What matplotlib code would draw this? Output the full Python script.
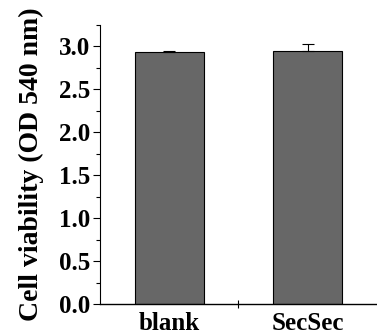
import matplotlib.pyplot as plt
import numpy as np

categories = ['blank', 'SecSec']
values = [2.93, 2.95]
errors = [0.02, 0.08]

plt.rcParams['font.family'] = ['Liberation Serif', 'DejaVu Serif']
plt.rcParams['font.weight'] = 'bold'

fig = plt.figure(figsize=(3.77, 3.36), dpi=100)
ax = fig.add_axes([0.265, 0.095, 0.735, 0.831])

x = np.arange(1, len(categories) + 1)
ax.bar(x, values, width=0.5, color='#676767', edgecolor='black', linewidth=0.8,
       yerr=[[0] * len(errors), errors], capsize=4.5,
       error_kw=dict(ecolor='black', elinewidth=0.8, capthick=0.8))

ax.set_xlim(0.5, 2.5)
ax.set_ylim(0, 3.25)
ax.set_xticks(x)
ax.set_xticklabels(categories, fontsize=18, fontweight='bold')
ax.tick_params(axis='x', length=0, pad=6)
ax.set_xticks([1.5], minor=True)
ax.tick_params(axis='x', which='minor', direction='inout', length=6, width=0.8)

ax.set_yticks(np.arange(0, 3.01, 0.5))
ax.set_yticklabels([f'{v:.1f}' for v in np.arange(0, 3.01, 0.5)], fontsize=18, fontweight='bold')
ax.set_yticks(np.arange(0, 3.26, 0.25), minor=True)
ax.tick_params(axis='y', which='major', direction='out', length=5, width=0.8, pad=2)
ax.tick_params(axis='y', which='minor', direction='out', length=3, width=0.8)

ax.set_ylabel('Cell viability (OD 540 nm)', fontsize=20, fontweight='bold', labelpad=11)

ax.spines['top'].set_visible(False)
ax.spines['right'].set_visible(False)
ax.spines['left'].set_linewidth(0.8)
ax.spines['bottom'].set_linewidth(1.0)

fig.savefig('out.png', dpi=100)
